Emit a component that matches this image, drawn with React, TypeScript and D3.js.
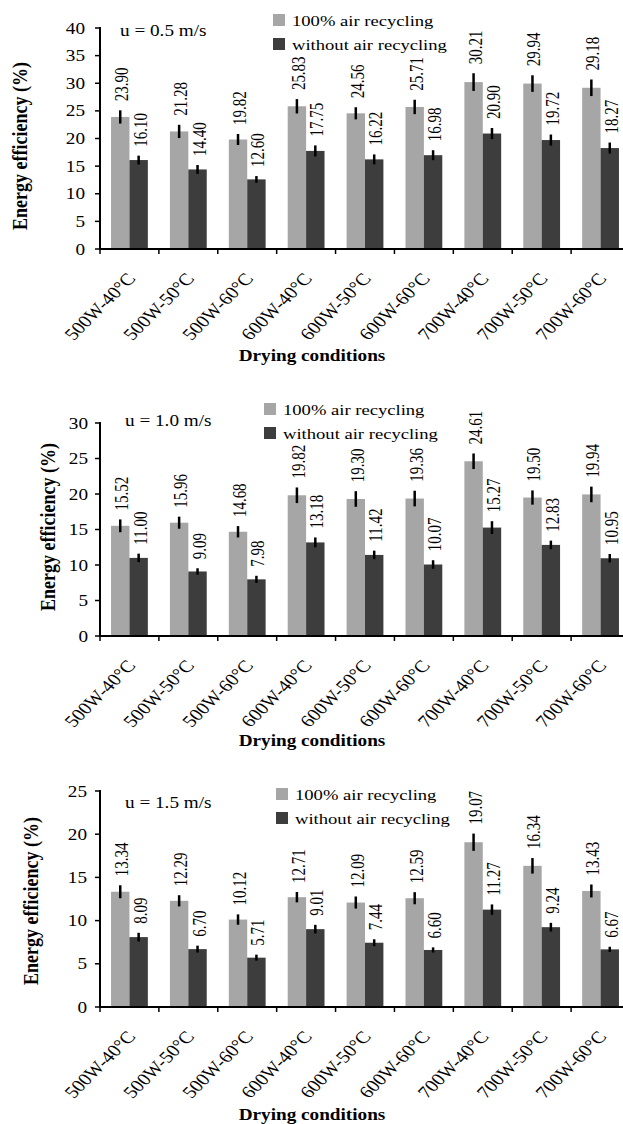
import React, { useEffect, useRef } from 'react';
import * as d3 from 'd3';

// categories on the x axis (same for all three panels)
const categories = [
  '500W-40°C', '500W-50°C', '500W-60°C',
  '600W-40°C', '600W-50°C', '600W-60°C',
  '700W-40°C', '700W-50°C', '700W-60°C',
];
const seriesNames = ['100% air recycling', 'without air recycling'];

// u = 0.5 m/s
const recycled05 = [23.90, 21.28, 19.82, 25.83, 24.56, 25.71, 30.21, 29.94, 29.18];
const noRecycle05 = [16.10, 14.40, 12.60, 17.75, 16.22, 16.98, 20.90, 19.72, 18.27];
const recycledErr05 = [1.2, 1.2, 1.0, 1.3, 1.1, 1.3, 1.6, 1.5, 1.5];
const noRecycleErr05 = [0.8, 0.8, 0.6, 1.0, 0.9, 0.9, 1.0, 1.0, 1.0];
const yTicks05 = [0, 5, 10, 15, 20, 25, 30, 35, 40];

// u = 1.0 m/s
const recycled10 = [15.52, 15.96, 14.68, 19.82, 19.30, 19.36, 24.61, 19.50, 19.94];
const noRecycle10 = [11.00, 9.09, 7.98, 13.18, 11.42, 10.07, 15.27, 12.83, 10.95];
const recycledErr10 = [0.9, 0.85, 0.8, 1.1, 1.1, 1.1, 1.1, 1.0, 1.1];
const noRecycleErr10 = [0.6, 0.45, 0.5, 0.7, 0.6, 0.6, 0.9, 0.6, 0.6];
const yTicks10 = [0, 5, 10, 15, 20, 25, 30];

// u = 1.5 m/s
const recycled15 = [13.34, 12.29, 10.12, 12.71, 12.09, 12.59, 19.07, 16.34, 13.43];
const noRecycle15 = [8.09, 6.70, 5.71, 9.01, 7.44, 6.60, 11.27, 9.24, 6.67];
const recycledErr15 = [0.75, 0.65, 0.6, 0.6, 0.7, 0.7, 1.0, 0.9, 0.75];
const noRecycleErr15 = [0.5, 0.4, 0.35, 0.5, 0.4, 0.3, 0.6, 0.5, 0.3];
const yTicks15 = [0, 5, 10, 15, 20, 25];

const FONT = '"Liberation Serif", "Times New Roman", serif';
const SX = 1.2; // the original figure is stretched sideways
const LIGHT = '#a6a6a6';
const DARK = '#3d3d3d';

const panels = [
  {
    speed: 'u = 0.5 m/s', ticks: yTicks05, rec: recycled05, non: noRecycle05,
    recErr: recycledErr05, nonErr: noRecycleErr05,
    top: 28, zero: 249, speedPos: [120, 36], legend: [273, 14], yTitle: [19, 146], tickRight: 85, xTitleY: 361,
  },
  {
    speed: 'u = 1.0 m/s', ticks: yTicks10, rec: recycled10, non: noRecycle10,
    recErr: recycledErr10, nonErr: noRecycleErr10,
    top: 423, zero: 636, speedPos: [125, 426], legend: [264, 403], yTitle: [47, 527], tickRight: 88, xTitleY: 746,
  },
  {
    speed: 'u = 1.5 m/s', ticks: yTicks15, rec: recycled15, non: noRecycle15,
    recErr: recycledErr15, nonErr: noRecycleErr15,
    top: 791, zero: 1007, speedPos: [125, 808], legend: [276, 788], yTitle: [30, 901], tickRight: 87, xTitleY: 1120,
  },
];

function text(g: any, x: number, y: number, s: string, size: number, opts: any = {}) {
  return g.append('text')
    .attr('transform', `translate(${x},${y}) scale(${SX},1) rotate(${opts.rotate || 0})`)
    .attr('font-family', FONT)
    .attr('font-size', size)
    .attr('font-weight', opts.bold ? 'bold' : 'normal')
    .attr('text-anchor', opts.anchor || 'start')
    .attr('dy', opts.dy || null)
    .attr('fill', '#000')
    .text(s);
}

export default function App() {
  const ref = useRef<SVGSVGElement>(null);

  useEffect(() => {
    const svg = d3.select(ref.current);
    svg.selectAll('*').remove();

    const x = d3.scaleBand().domain(categories).range([100, 630]).padding(0);
    const x1 = d3.scaleBand().domain(seriesNames).range([0, x.step()]).paddingInner(0).paddingOuter(0.6);

    panels.forEach((p) => {
      const g = svg.append('g');
      const yMax = p.ticks[p.ticks.length - 1];
      const y = d3.scaleLinear().domain([0, yMax]).range([p.zero, p.top]);

      // bars + error bars + value labels
      categories.forEach((c, i) => {
        const vals = [p.rec[i], p.non[i]];
        const errs = [p.recErr[i], p.nonErr[i]];
        seriesNames.forEach((s, j) => {
          const bx = x(c)! + x1(s)!;
          const bw = x1.bandwidth();
          g.append('rect')
            .attr('x', bx).attr('y', y(vals[j]))
            .attr('width', bw).attr('height', y(0) - y(vals[j]))
            .attr('fill', j === 0 ? LIGHT : DARK);
          const cx = bx + bw / 2;
          g.append('line')
            .attr('x1', cx).attr('x2', cx)
            .attr('y1', y(vals[j] - errs[j])).attr('y2', y(vals[j] + errs[j]))
            .attr('stroke', '#000').attr('stroke-width', 2.5);
          text(g, cx + 8, y(vals[j] + errs[j]) - 9, vals[j].toFixed(2), 15, { rotate: -90 });
        });
      });

      // y axis
      g.append('line')
        .attr('x1', 100).attr('x2', 100).attr('y1', y(yMax) - 1).attr('y2', y(0))
        .attr('stroke', '#000').attr('stroke-width', 2);
      p.ticks.forEach((t) => {
        g.append('line')
          .attr('x1', 95).attr('x2', 100).attr('y1', y(t)).attr('y2', y(t))
          .attr('stroke', '#000').attr('stroke-width', 1.5);
        text(g, p.tickRight, y(t), String(t), 16, { anchor: 'end', dy: '0.35em' });
      });

      // x axis
      g.append('line')
        .attr('x1', 99).attr('x2', 630).attr('y1', y(0)).attr('y2', y(0))
        .attr('stroke', '#000').attr('stroke-width', 2);
      d3.range(categories.length + 1).forEach((k) => {
        const tx = x.range()[0] + k * x.step();
        g.append('line')
          .attr('x1', tx).attr('x2', tx).attr('y1', y(0)).attr('y2', y(0) + 5)
          .attr('stroke', '#000').attr('stroke-width', 1.5);
      });
      categories.forEach((c) => {
        const cx = x(c)! + x.bandwidth() / 2;
        text(g, cx + 7, y(0) + 30, c, 17, { anchor: 'end', rotate: -50 });
      });

      // titles
      text(g, 312, p.xTitleY, 'Drying conditions', 16, { anchor: 'middle', bold: true });
      text(g, p.yTitle[0], p.yTitle[1], 'Energy efficiency (%)', 18, { anchor: 'middle', bold: true, rotate: -90, dy: '0.35em' });
      text(g, p.speedPos[0], p.speedPos[1], p.speed, 16);

      // legend
      seriesNames.forEach((s, j) => {
        const ly = p.legend[1] + j * 24;
        g.append('rect')
          .attr('x', p.legend[0]).attr('y', ly)
          .attr('width', 12).attr('height', 12)
          .attr('fill', j === 0 ? LIGHT : DARK);
        text(g, p.legend[0] + 19, ly + 12, s, 15.5);
      });
    });
  }, []);

  return (
    <svg ref={ref} width={623} height={1124}
      style={{ position: 'absolute', left: 0, top: 0, background: '#fff' }} />
  );
}
